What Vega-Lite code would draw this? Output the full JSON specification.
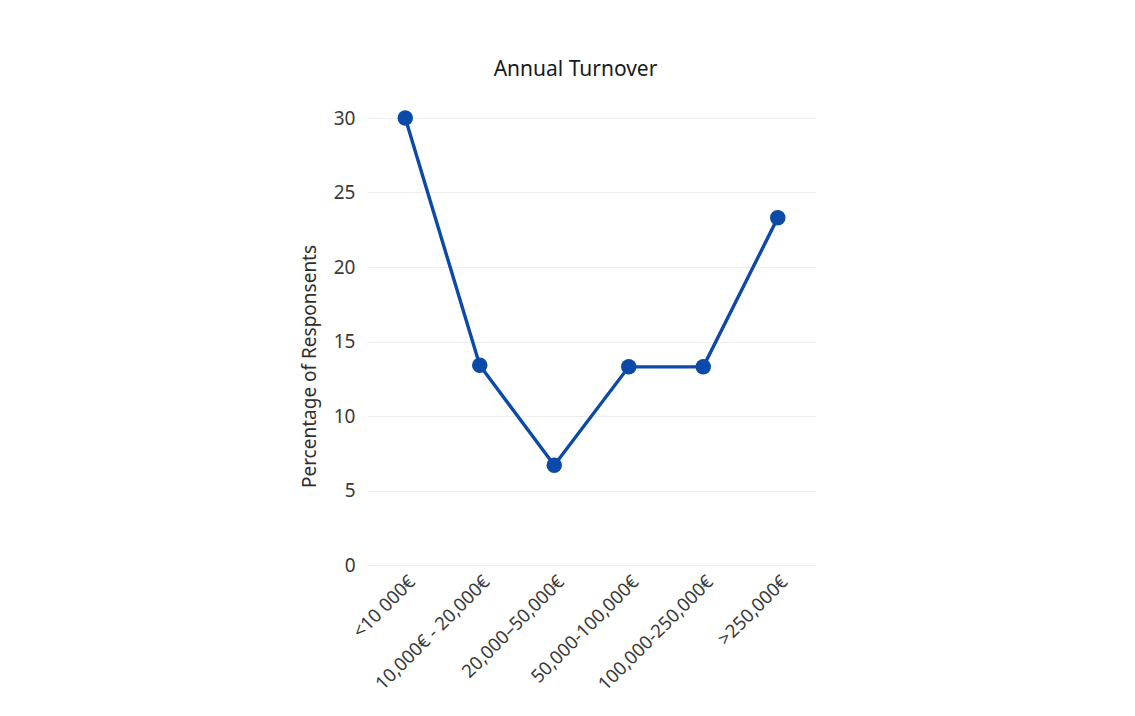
{
  "$schema": "https://vega.github.io/schema/vega-lite/v6.json",
  "autosize": {"type": "none"},
  "padding": {"left": 368, "top": 118, "right": 320, "bottom": 151},
  "width": 447,
  "height": 447,
  "background": "white",
  "title": {
    "text": "Annual Turnover",
    "font": "Noto Sans",
    "fontSize": 21,
    "fontWeight": "normal",
    "color": "#1a1a1a",
    "anchor": "middle",
    "offset": 29,
    "dx": -16
  },
  "data": {
    "values": [
      {"turnover": "<10 000€", "pct": 30},
      {"turnover": "10,000€ - 20,000€", "pct": 13.4},
      {"turnover": "20,000–50,000€", "pct": 6.7},
      {"turnover": "50,000-100,000€", "pct": 13.3},
      {"turnover": "100,000-250,000€", "pct": 13.3},
      {"turnover": ">250,000€", "pct": 23.3}
    ]
  },
  "encoding": {
    "x": {
      "field": "turnover",
      "type": "ordinal",
      "sort": null,
      "scale": {"type": "point", "padding": 0.5},
      "axis": {
        "title": null,
        "labelAngle": -45,
        "labelFont": "Noto Sans",
        "labelFontSize": 18.5,
        "labelColor": "#3a3a3a",
        "labelPadding": 7,
        "ticks": false,
        "domain": false,
        "grid": false
      }
    },
    "y": {
      "field": "pct",
      "type": "quantitative",
      "scale": {"domain": [0, 30], "nice": false},
      "axis": {
        "title": "Percentage of Responsents",
        "titleFont": "Noto Sans",
        "titleFontSize": 19,
        "titleFontWeight": "normal",
        "titleColor": "#2e2e2e",
        "titleY": 248,
        "titlePadding": 14,
        "values": [0, 5, 10, 15, 20, 25, 30],
        "labelFont": "Noto Sans",
        "labelFontSize": 19,
        "labelColor": "#3a3a3a",
        "labelPadding": 13,
        "ticks": false,
        "domain": false,
        "grid": true,
        "gridColor": "#eeeeee",
        "gridWidth": 1
      }
    }
  },
  "layer": [
    {
      "mark": {"type": "line", "color": "#0b4aa8", "strokeWidth": 3.4}
    },
    {
      "mark": {"type": "point", "filled": true, "opacity": 1, "color": "#0b4aa8", "size": 240}
    }
  ],
  "config": {
    "view": {"stroke": null}
  }
}
